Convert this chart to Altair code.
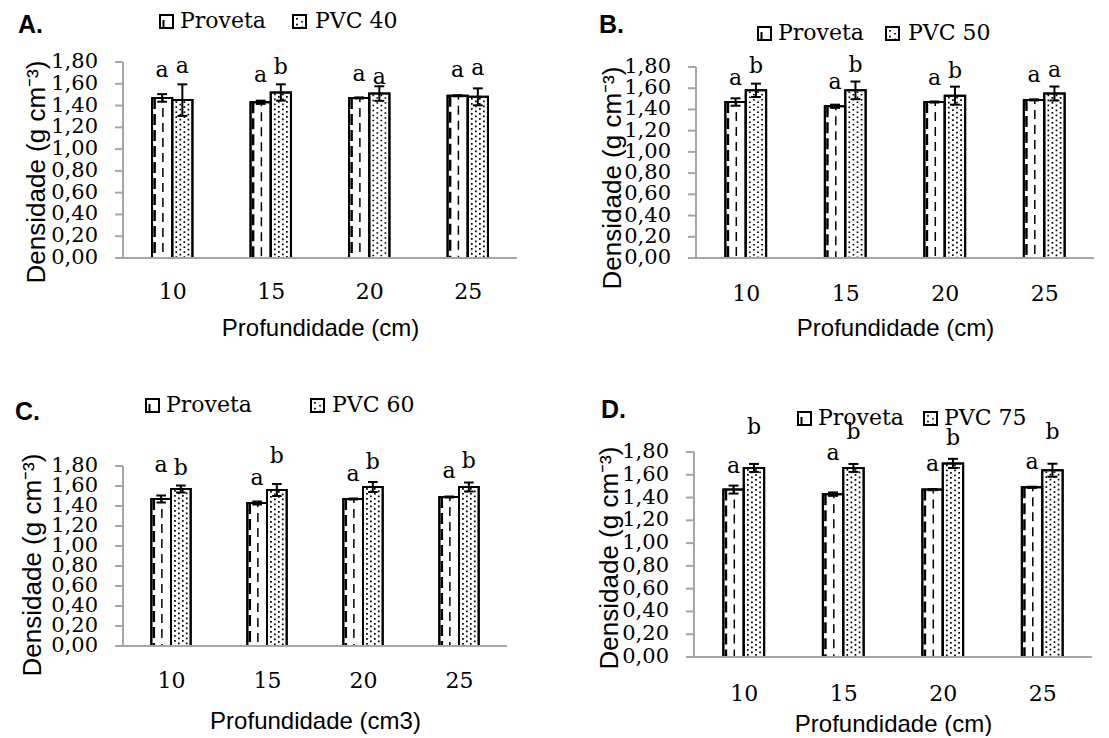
import altair as alt
import pandas as pd

# ---------------- data ----------------
depths = ["10", "15", "20", "25"]
y_ticks = [0.0, 0.2, 0.4, 0.6, 0.8, 1.0, 1.2, 1.4, 1.6, 1.8]

proveta_name = "Proveta"
proveta = [1.47, 1.43, 1.47, 1.49]
proveta_err = [0.035, 0.015, 0.005, 0.005]

panel_ids = ["A.", "B.", "C.", "D."]
pvc_names = ["PVC 40", "PVC 50", "PVC 60", "PVC 75"]

pvc40 = [1.45, 1.52, 1.51, 1.48]
pvc40_err = [0.145, 0.075, 0.067, 0.078]
pvc50 = [1.58, 1.58, 1.53, 1.55]
pvc50_err = [0.063, 0.083, 0.085, 0.066]
pvc60 = [1.57, 1.56, 1.59, 1.59]
pvc60_err = [0.035, 0.06, 0.05, 0.045]
pvc75 = [1.66, 1.66, 1.70, 1.64]
pvc75_err = [0.035, 0.035, 0.04, 0.057]

letters_proveta = ["a", "a", "a", "a"]
letters40 = ["a", "b", "a", "a"]
letters50 = ["b", "b", "b", "a"]
letters60 = ["b", "b", "b", "b"]
letters75 = ["b", "b", "b", "b"]

# heights (data units) at which the letters sit in the picture
lab_prov40 = [1.66, 1.62, 1.63, 1.66]
lab_pvc40 = [1.70, 1.69, 1.60, 1.68]
lab_prov50 = [1.63, 1.59, 1.63, 1.66]
lab_pvc50 = [1.74, 1.75, 1.70, 1.71]
lab_prov60 = [1.74, 1.61, 1.65, 1.68]
lab_pvc60 = [1.71, 1.83, 1.77, 1.78]
lab_prov75 = [1.62, 1.73, 1.63, 1.65]
lab_pvc75 = [1.96, 1.91, 1.86, 1.91]

x_titles = ["Profundidade (cm)", "Profundidade (cm)", "Profundidade (cm3)", "Profundidade (cm)"]
y_titles = ["Densidade  (g cm⁻³)", "Densidade  (g cm⁻³)", "Densidade (g cm⁻³)", "Densidade (g cm⁻³)"]

# ---------------- layout / style constants ----------------
BAR = 0.205      # width of one bar, in category units
CAP = 0.05       # half width of error-bar caps
SERIF = "DejaVu Serif"
SANS = "Liberation Sans"
AXIS_GRAY = "#A6A6A6"

# h: height of the 0..1.80 axis; ext: extra empty room above it (to stagger panels)
geom = [
    dict(w=394, h=196, ext=0, let=(-105, -29), box1=(37, -47), txt1=(57, -34), box2=(170, -47),
         txt2=(192, -34), yt=(-78, 110), lpad=23, tpad=14),
    dict(w=398, h=191, ext=5, let=(-97, -34), box1=(62, -40), txt1=(82, -27), box2=(190, -40),
         txt2=(212, -27), yt=(-75, 111), lpad=25, tpad=12),
    dict(w=384, h=180, ext=14, let=(-108, -46), box1=(23, -67), txt1=(43, -54), box2=(188, -67),
         txt2=(209, -54), yt=(-82, 99), lpad=24, tpad=18),
    dict(w=398, h=205, ext=0, let=(-93, -34), box1=(104, -40), txt1=(124, -27), box2=(230, -40),
         txt2=(250, -27), yt=(-76, 106), lpad=26, tpad=8),
]

label_expr_x = "[" + ",".join("'%s'" % d for d in depths) + "][floor(datum.value)]"


def panel(i, pvc, pvc_err, let_pvc, lab_prov, lab_pvc):
    g = geom[i]
    e = g["ext"]
    rows = []
    for k, d in enumerate(depths):
        c = k + 0.5
        rows.append(dict(depth=d, series=proveta_name, value=proveta[k], err=proveta_err[k],
                         letter=letters_proveta[k], ly=lab_prov[k], x0=c - BAR, x1=c))
        rows.append(dict(depth=d, series="PVC", value=pvc[k], err=pvc_err[k],
                         letter=let_pvc[k], ly=lab_pvc[k], x0=c, x1=c + BAR))
    df = pd.DataFrame(rows)
    df["xc"] = (df.x0 + df.x1) / 2
    df["lo"] = df.value - df.err
    df["hi"] = df.value + df.err
    df["cl"] = df.xc - CAP
    df["cr"] = df.xc + CAP

    # pattern helper lines inside bars
    pat = []
    for _, r in df.iterrows():
        if r.series == proveta_name:
            pat.append(dict(kind="pl", px=r.x0 + 0.026, value=r.value))
            pat.append(dict(kind="pm", px=r.x0 + 0.11, value=r.value))
        else:
            for j, f in enumerate([0.2, 0.4, 0.6, 0.8]):
                pat.append(dict(kind="d%d" % (j % 2), px=r.x0 + f * BAR, value=r.value - 0.01))
    pdf = pd.DataFrame(pat)

    ymax = y_ticks[-1]
    ytop = ymax * (g["h"] + e) / g["h"]
    xs = alt.Scale(domain=[0, 4], nice=False, zero=False)
    ys = alt.Scale(domain=[0, ytop], nice=False, zero=True)

    xaxis = alt.Axis(
        values=[k + 0.5 for k in range(len(depths))], labelExpr=label_expr_x, ticks=False,
        grid=False, domain=False, labelFont=SERIF, labelFontSize=22,
        labelColor="black", labelPadding=g["lpad"], labelFlush=False, labelOverlap=False,
        title=x_titles[i], titleFont=SANS, titleFontSize=24, titleFontWeight="normal",
        titleColor="black", titlePadding=g["tpad"],
    )

    def X(f):
        return alt.X(f, scale=xs, axis=xaxis)

    def Y(f):
        return alt.Y(f, scale=ys, axis=None)

    def YD(v):
        return alt.YDatum(v, scale=ys, axis=None)

    base = alt.Chart(df)
    bars = base.mark_rect(fill="white", stroke="black", strokeWidth=2).encode(
        x=X("x0:Q"), x2="x1:Q", y=Y("value:Q"), y2=alt.datum(0),
    )

    def pat_layer(kind, **mk):
        return alt.Chart(pdf).transform_filter(alt.datum.kind == kind).mark_rule(
            stroke="black", **mk).encode(x=X("px:Q"), y=Y("value:Q"), y2=alt.datum(0))

    pl = pat_layer("pl", strokeWidth=2.5, strokeDash=[11, 5])
    pm = pat_layer("pm", strokeWidth=1.5, strokeDash=[9, 6], strokeDashOffset=5)
    d0 = pat_layer("d0", strokeWidth=1.7, strokeDash=[1.7, 3.3])
    d1 = pat_layer("d1", strokeWidth=1.7, strokeDash=[1.7, 3.3], strokeDashOffset=2.5)

    outline = base.mark_rect(fill=None, stroke="black", strokeWidth=2).encode(
        x=X("x0:Q"), x2="x1:Q", y=Y("value:Q"), y2=alt.datum(0),
    )
    err = base.mark_rule(stroke="black", strokeWidth=2).encode(
        x=X("xc:Q"), y=Y("lo:Q"), y2="hi:Q")
    cap_hi = base.mark_rule(stroke="black", strokeWidth=2).encode(
        x=X("cl:Q"), x2="cr:Q", y=Y("hi:Q"))
    cap_lo = base.mark_rule(stroke="black", strokeWidth=2).encode(
        x=X("cl:Q"), x2="cr:Q", y=Y("lo:Q"))
    letters = base.mark_text(font=SERIF, fontSize=22, baseline="alphabetic", align="center",
                             color="black").encode(x=X("xc:Q"), y=Y("ly:Q"), text="letter:N")

    # y axis drawn from the tick list, through the y scale
    yt = alt.Chart(pd.DataFrame({"v": y_ticks})).transform_calculate(
        lab="replace(format(datum.v, '.2f'), '.', ',')")
    yticks = yt.mark_rule(stroke=AXIS_GRAY, strokeWidth=2).encode(
        y=Y("v:Q"), x=alt.value(-8), x2=alt.value(0))
    ylabels = yt.mark_text(font=SERIF, fontSize=21, align="right", baseline="middle",
                           color="black").encode(y=Y("v:Q"), x=alt.value(-25), text="lab:N")

    ann = alt.Chart(pd.DataFrame({"panel": [panel_ids[i]], "s1": [proveta_name],
                                  "s2": [pvc_names[i]], "yt": [y_titles[i]]}))
    yline = ann.mark_rule(stroke=AXIS_GRAY, strokeWidth=2).encode(
        x=alt.value(0), y=YD(0), y2=alt.datum(ymax))
    xline = ann.mark_rule(stroke=AXIS_GRAY, strokeWidth=2).encode(
        x=alt.value(-8), x2=alt.value(g["w"]), y=YD(0))
    ytitle = ann.mark_text(font=SANS, fontSize=26, angle=270, align="center",
                           baseline="alphabetic", color="black").encode(
        x=alt.value(g["yt"][0]), y=alt.value(g["yt"][1] + e), text="yt:N")
    plabel = ann.mark_text(font=SANS, fontSize=25, fontWeight="bold", align="left",
                           baseline="alphabetic", color="black").encode(
        x=alt.value(g["let"][0]), y=alt.value(g["let"][1] + e), text="panel:N")
    t1 = ann.mark_text(font=SERIF, fontSize=22, align="left", baseline="alphabetic",
                       color="black").encode(
        x=alt.value(g["txt1"][0]), y=alt.value(g["txt1"][1] + e), text="s1:N")
    t2 = ann.mark_text(font=SERIF, fontSize=22, align="left", baseline="alphabetic",
                       color="black").encode(
        x=alt.value(g["txt2"][0]), y=alt.value(g["txt2"][1] + e), text="s2:N")
    layers = [bars, pl, pm, d0, d1, outline, yline, xline, yticks, ylabels, ytitle,
              err, cap_hi, cap_lo, letters, plabel, t1, t2]
    for (bx, by), kind in [(g["box1"], "p"), (g["box2"], "d")]:
        by = by + e
        layers.append(ann.mark_rect(fill="white", stroke="black", strokeWidth=2).encode(
            x=alt.value(bx), x2=alt.value(bx + 13), y=alt.value(by), y2=alt.value(by + 13)))
        if kind == "p":
            layers.append(ann.mark_rule(stroke="black", strokeWidth=2).encode(
                x=alt.value(bx + 3.5), y=alt.value(by + 5), y2=alt.value(by + 12)))
        else:
            layers.append(ann.mark_rule(stroke="black", strokeWidth=1.7, strokeDash=[1.7, 4]).encode(
                x=alt.value(bx + 4), y=alt.value(by + 3), y2=alt.value(by + 12)))
            layers.append(ann.mark_rule(stroke="black", strokeWidth=1.7, strokeDash=[1.7, 4],
                                        strokeDashOffset=2.8).encode(
                x=alt.value(bx + 9), y=alt.value(by + 3), y2=alt.value(by + 12)))
    return alt.layer(*layers).properties(width=g["w"], height=g["h"] + e)


pA = panel(0, pvc40, pvc40_err, letters40, lab_prov40, lab_pvc40)
pB = panel(1, pvc50, pvc50_err, letters50, lab_prov50, lab_pvc50)
pC = panel(2, pvc60, pvc60_err, letters60, lab_prov60, lab_pvc60)
pD = panel(3, pvc75, pvc75_err, letters75, lab_prov75, lab_pvc75)

row1 = alt.hconcat(pA, pB, spacing=81)
row2 = alt.hconcat(pC, pD, spacing=89)
chart = alt.vconcat(row1, row2, spacing=54).properties(
    padding={"left": 7, "top": 2, "right": 0, "bottom": 0}, background="white"
).configure_view(stroke=None)

chart.save("out.html", embed_options={"renderer": "svg", "actions": False})
